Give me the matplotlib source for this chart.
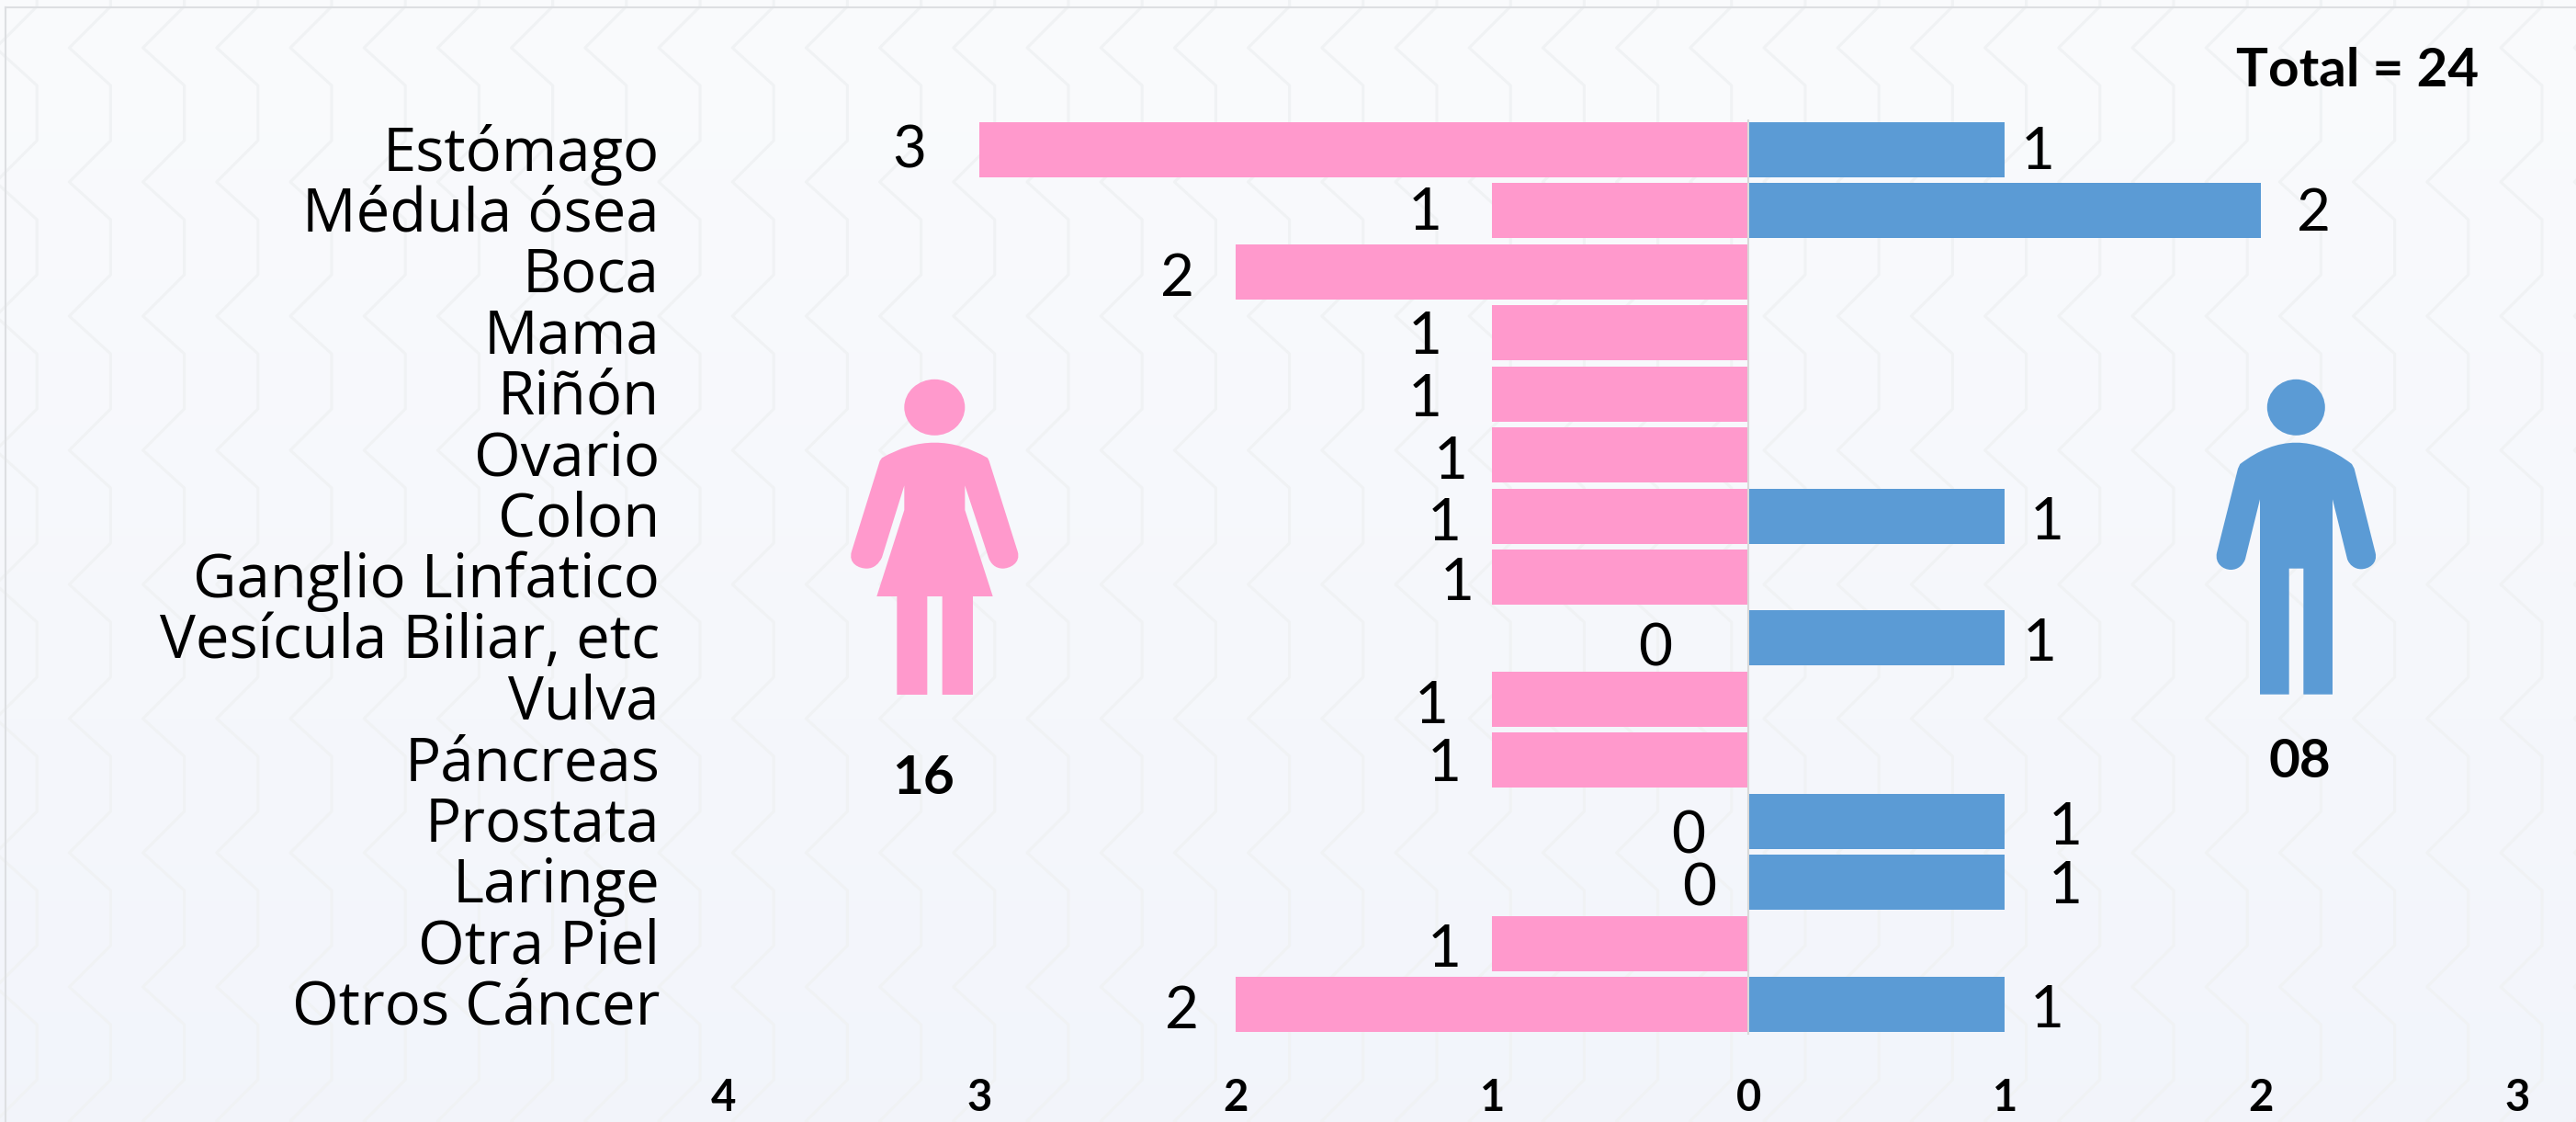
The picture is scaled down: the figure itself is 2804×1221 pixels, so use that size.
"""Cancer cases by site, women vs men, as a back to back bar chart."""
import matplotlib
matplotlib.use("Agg")
import matplotlib.pyplot as plt
import numpy as np
from matplotlib.lines import Line2D
from matplotlib.patches import Ellipse, PathPatch
from matplotlib.path import Path
from matplotlib.transforms import Affine2D

W, H = 2804, 1221

sites = ["Estómago", "Médula ósea", "Boca", "Mama", "Riñón", "Ovario", "Colon",
         "Ganglio Linfatico", "Vesícula Biliar, etc", "Vulva", "Páncreas",
         "Prostata", "Laringe", "Otra Piel", "Otros Cáncer"]
mujeres = [3, 1, 2, 1, 1, 1, 1, 1, 0, 1, 1, 0, 0, 1, 2]
hombres = [1, 2, 0, 0, 0, 0, 1, 0, 1, 0, 0, 1, 1, 0, 1]
x_ticks = [-4, -3, -2, -1, 0, 1, 2, 3]
x_tick_labels = ["4", "3", "2", "1", "0", "1", "2", "3"]

# hand placed value labels in the original, offsets from bar end in px
off_m = [(-77, -1), (-73, -3), (-64, -8), (-73, -5), (-73, -6), (-45, -8), (-52, -8), (-38, -7),
         (-102, -12), (-66, -8), (-52, -5), (-66, -17), (-54, -7), (-52, -7), (-59, -8)]
off_h = [(36, -3), (57, -4), None, None, None, None, (46, -7), None,
         (38, -7), None, None, (66, -7), (66, -5), None, (46, -7)]

PINK = "#FF99CC"
BLUE = "#5B9BD5"

plt.rcParams["font.family"] = ["Lato", "DejaVu Sans"]

fig = plt.figure(figsize=(W / 100, H / 100), dpi=100, facecolor="#F8FAFD")
px = Affine2D().scale(1 / W, -1 / H).translate(0, 1) + fig.transFigure

# ---- background: soft gradient and chevron columns
bg = fig.add_axes([0, 0, 1, 1], zorder=0)
bg.axis("off")
grad = np.ones((H, 1, 3))
grad[:, 0, 0] = np.linspace(0.98, 0.95, H)
grad[:, 0, 1] = np.linspace(0.984, 0.96, H)
grad[:, 0, 2] = np.linspace(0.992, 0.984, H)
bg.imshow(grad, aspect="auto", extent=(0, W, H, 0))
bg.set_xlim(0, W)
bg.set_ylim(H, 0)
for cx in np.arange(-40, W + 80, 80.2):
    ys, xs = [], []
    for y0 in np.arange(52 - 146, H + 146, 146):
        xs += [cx - 45, cx, cx]
        ys += [y0, y0 + 41, y0 + 101]
    bg.plot(xs, ys, color="#F0F2F4", lw=2.2, zorder=1)
fig.add_artist(Line2D([6, 6], [8, H], transform=px, color="#DDDFE2", lw=1.5))
fig.add_artist(Line2D([6, W], [8, 8], transform=px, color="#DDDFE2", lw=1.5))

# ---- bars
ax = fig.add_axes([787.5 / W, 1 - 1126.2 / H, (2740 - 787.5) / W, (1126.2 - 129.8) / H], zorder=2)
ax.patch.set_alpha(0)
y = np.arange(len(sites))
ax.barh(y, -np.array(mujeres), height=0.904, color=PINK, zorder=2)
ax.barh(y, hombres, height=0.904, color=BLUE, zorder=2)
ax.axvline(0, color="#D9D9D9", lw=1.5, zorder=3)
ax.set_xlim(-4, 3)
ax.set_ylim(len(sites) - 0.5, -0.5)
for s in ax.spines.values():
    s.set_visible(False)
ax.set_yticks(y, sites, fontsize=47, family=["Open Sans", "DejaVu Sans"])
ax.set_xticks(x_ticks, x_tick_labels, fontsize=34, fontweight="bold")
ax.tick_params(axis="y", length=0, pad=50)
ax.tick_params(axis="x", length=0, pad=34)
for lab in ax.get_yticklabels():
    lab.set_transform(lab.get_transform() + Affine2D().translate(0, 3))

for i, v in enumerate(mujeres):
    ax.annotate(str(v), (-v, i), xytext=off_m[i], textcoords="offset pixels",
                ha="center", va="center", fontsize=46)
for i, v in enumerate(hombres):
    if off_h[i] is not None:
        ax.annotate(str(v), (v, i), xytext=off_h[i], textcoords="offset pixels",
                    ha="center", va="center", fontsize=46)

# ---- totals
fig.text(2566 / W, 1 - 78 / H, "Total = 24", ha="center", va="center", fontsize=42, fontweight="bold")
fig.text(1005 / W, 1 - 847 / H, "16", ha="center", va="center", fontsize=42, fontweight="bold")
fig.text(2503 / W, 1 - 830 / H, "08", ha="center", va="center", fontsize=42, fontweight="bold")


# ---- icons, traced in crop coordinates (3x) and moved to pixels
def icon(points, codes, origin, color):
    verts = [(origin[0] + a / 3, origin[1] + b / 3) for a, b in points]
    fig.add_artist(PathPatch(Path(verts, codes), transform=px, fc=color, ec="none", zorder=5))


M, L, C3, C4, Z = Path.MOVETO, Path.LINETO, Path.CURVE3, Path.CURVE4, Path.CLOSEPOLY

woman = [(330, 445), (502, 345), (675, 445), (680, 455), (773, 750),
         (785, 790), (745, 806), (725, 806), (700, 806), (685, 790), (678, 770),
         (601, 535), (601, 615), (692, 897), (627, 897), (627, 1218), (527, 1218),
         (527, 897), (478, 897), (478, 1218), (379, 1218), (379, 897), (313, 897),
         (403, 615), (403, 535), (330, 770),
         (320, 790), (305, 806), (280, 806), (255, 806), (219, 790), (231, 750),
         (323, 455), (330, 445)]
woman_codes = [M, C3, C3, L, L, C4, C4, C4, C4, C4, C4] + [L] * 15 + [C4] * 6 + [L, Z]
icon(woman, woman_codes, (850, 350), PINK)
fig.add_artist(Ellipse((1017.3, 443.3), 66, 61, transform=px, fc=PINK, ec="none", zorder=5))

man = [(295, 375), (478, 235), (660, 375), (668, 390), (737, 665),
       (745, 700), (715, 718), (690, 718), (670, 718), (652, 705), (645, 685),
       (597, 490), (597, 1127), (502, 1127), (502, 716), (455, 716), (455, 1127),
       (360, 1127), (360, 490), (312, 685),
       (305, 705), (288, 720), (265, 720), (240, 720), (212, 700), (219, 665),
       (288, 390), (295, 375)]
man_codes = [M, C3, C3, L, L, C4, C4, C4, C4, C4, C4] + [L] * 9 + [C4] * 6 + [L, Z]
icon(man, man_codes, (2340, 380), BLUE)
fig.add_artist(Ellipse((2499.3, 443.3), 63, 61, transform=px, fc=BLUE, ec="none", zorder=5))

fig.savefig("out.png", dpi=100)
